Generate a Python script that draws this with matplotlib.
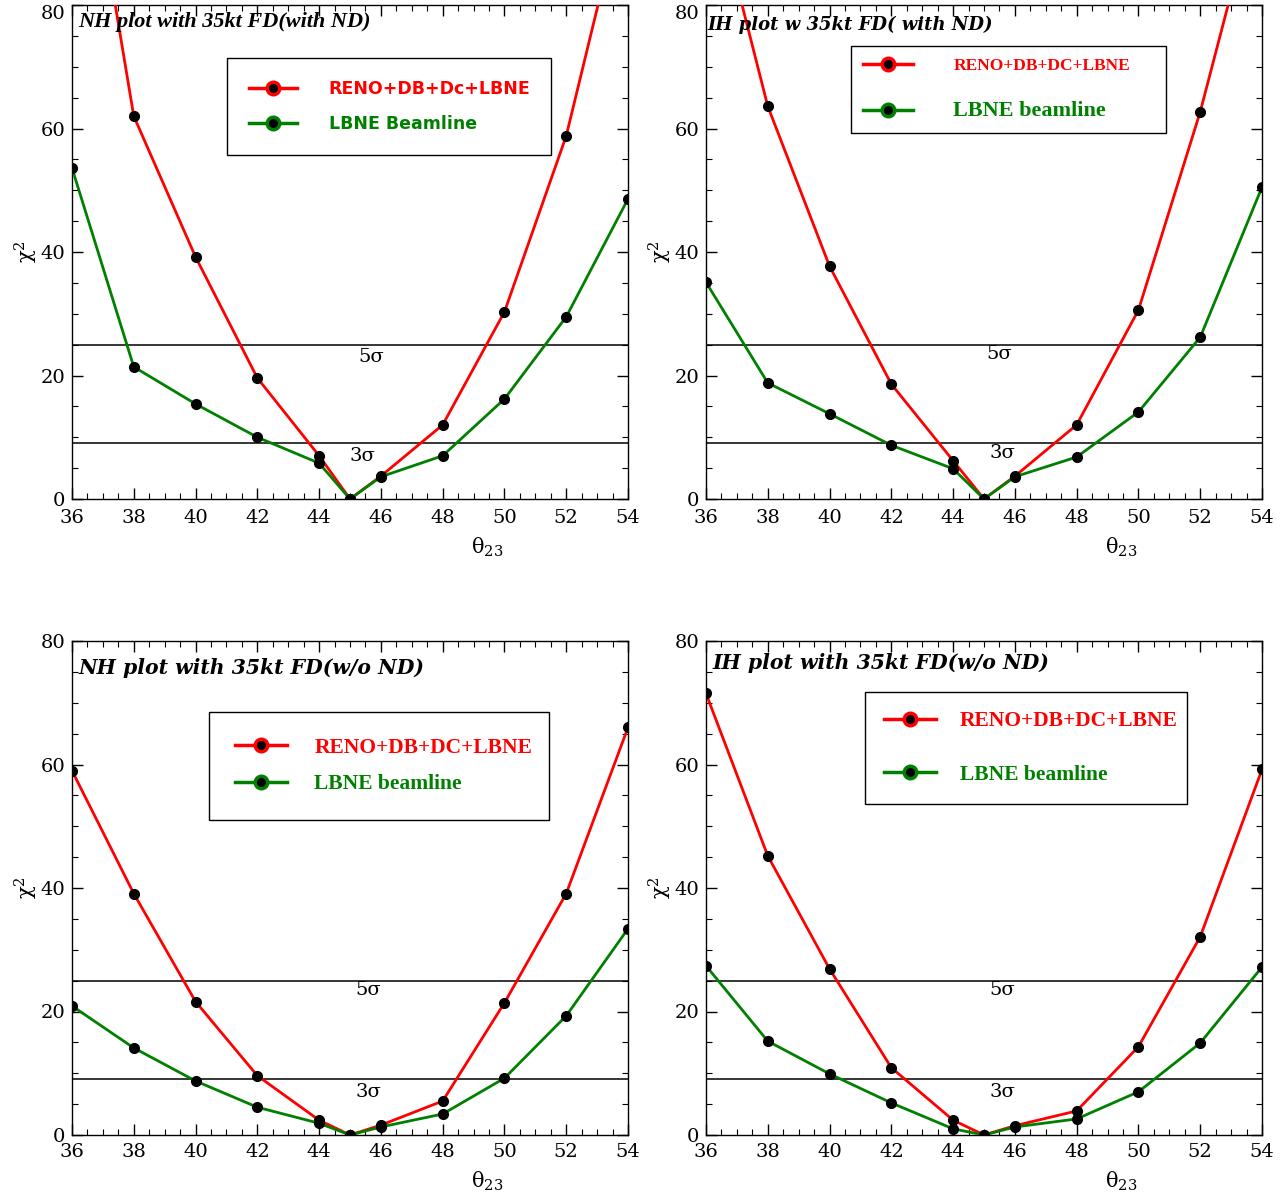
import matplotlib
matplotlib.use("Agg")
import matplotlib.pyplot as plt
from matplotlib.lines import Line2D
from matplotlib.ticker import MultipleLocator, FuncFormatter

theta = [36, 38, 40, 42, 44, 45, 46, 48, 50, 52, 54]

# Panel 1: NH with ND
nh_nd_red = [122, 62.0, 39.2, 19.6, 7.0, 0.0, 3.7, 12.0, 30.3, 58.8, 100]
nh_nd_green = [53.6, 21.4, 15.4, 10.0, 5.8, 0.0, 3.6, 7.0, 16.2, 29.5, 48.6]
# Panel 2: IH with ND
ih_nd_red = [103, 63.6, 37.7, 18.6, 6.2, 0.0, 3.7, 12.0, 30.6, 62.7, 101]
ih_nd_green = [35.1, 18.8, 13.8, 8.7, 4.9, 0.0, 3.6, 6.8, 14.1, 26.2, 50.5]
# Panel 3: NH w/o ND
nh_wo_red = [59.0, 39.1, 21.6, 9.6, 2.4, 0.0, 1.6, 5.5, 21.4, 39.1, 66.0]
nh_wo_green = [20.9, 14.1, 8.75, 4.5, 1.9, 0.0, 1.3, 3.4, 9.2, 19.3, 33.4]
# Panel 4: IH w/o ND
ih_wo_red = [71.5, 45.2, 26.9, 10.9, 2.4, 0.0, 1.5, 3.9, 14.3, 32.1, 59.2]
ih_wo_green = [27.4, 15.2, 9.9, 5.2, 1.0, 0.0, 1.3, 2.6, 7.0, 14.9, 27.2]

sigma_levels = [9, 25]
sigma_labels = ["3σ", "5σ"]

titles = ["NH plot with 35kt FD(with ND)", "IH plot w 35kt FD( with ND)",
          "NH plot with 35kt FD(w/o ND)", "IH plot with 35kt FD(w/o ND)"]
red_labels = ["RENO+DB+Dc+LBNE", "RENO+DB+DC+LBNE", "RENO+DB+DC+LBNE", "RENO+DB+DC+LBNE"]
green_labels = ["LBNE Beamline", "LBNE beamline", "LBNE beamline", "LBNE beamline"]

RED = "#ff0000"
GREEN = "#008000"
SERIF = ["Liberation Serif", "DejaVu Serif"]
DJSERIF = ["DejaVu Serif"]

plt.rcParams['mathtext.fontset'] = 'dejavuserif'

fig = plt.figure(figsize=(12.81, 11.94), dpi=100)
W, H = 1281, 1194

def axes_px(l, r, t, b):
    return fig.add_axes([l / W, 1 - b / H, (r - l) / W, (b - t) / H])

panels = [
    dict(box=(72, 628, 5, 499), red=nh_nd_red, green=nh_nd_green,
         tfam=SERIF, tfs=16, tpos=(0.012, 0.985),
         leg=dict(anchor=(227, 58, 551), fam="sans", rfs=12.5, gfs=12.5,
                  hl=2.8, htp=1.8, bp=1.25, ls=1.0),
         s5=(45.7, 23.0), s3=(45.4, 7.0), top=True, xly=-0.075, pad=7.5),
    dict(box=(706, 1262, 5, 499), red=ih_nd_red, green=ih_nd_green,
         tfam=DJSERIF, tfs=13, tpos=(0.003, 0.978),
         leg=dict(anchor=(851, 46, 1166), fam="serif", rfs=12.5, gfs=16,
                  hl=2.9, htp=2.3, bp=0.7, ls=1.55),
         s5=(45.5, 23.5), s3=(45.6, 7.5), top=True, xly=-0.075, pad=7.5),
    dict(box=(72, 628, 641, 1135), red=nh_wo_red, green=nh_wo_green,
         tfam=DJSERIF, tfs=14.7, tpos=(0.012, 0.965),
         leg=dict(anchor=(209, 712, 549), fam="serif", rfs=15.5, gfs=15.5,
                  hl=2.4, htp=1.3, bp=1.2, ls=0.75),
         s5=(45.6, 23.5), s3=(45.6, 7.0), top=False, xly=-0.071, pad=5.5),
    dict(box=(706, 1262, 641, 1135), red=ih_wo_red, green=ih_wo_green,
         tfam=DJSERIF, tfs=14.7, tpos=(0.012, 0.975),
         leg=dict(anchor=(865, 692, 1187), fam="serif", rfs=15.5, gfs=15.5,
                  hl=2.4, htp=1.1, bp=0.9, ls=1.55),
         s5=(45.6, 23.5), s3=(45.6, 7.0), top=False, xly=-0.071, pad=5.5),
]

for i, p in enumerate(panels):
    l, r, t, b = p["box"]
    ax = axes_px(l, r, t, b)
    ax.plot(theta, p["red"], color=RED, lw=2.0, marker="o", ms=7, mfc="black", mec="black", zorder=3)
    ax.plot(theta, p["green"], color=GREEN, lw=2.0, marker="o", ms=7, mfc="black", mec="black", zorder=3)
    for lvl in sigma_levels:
        ax.axhline(lvl, color="black", lw=1.1, zorder=2)
    ax.text(p["s5"][0], p["s5"][1], sigma_labels[1], fontsize=14, family=DJSERIF, ha="center", va="center")
    ax.text(p["s3"][0], p["s3"][1], sigma_labels[0], fontsize=14, family=DJSERIF, ha="center", va="center")

    ax.set_xlim(36, 54)
    ax.set_ylim(0, 80)
    ax.xaxis.set_major_locator(MultipleLocator(2))
    ax.xaxis.set_minor_locator(MultipleLocator(0.5))
    ax.yaxis.set_major_locator(MultipleLocator(20))
    ax.yaxis.set_minor_locator(MultipleLocator(5))
    ax.tick_params(which="both", direction="in", top=True, right=True)
    ax.tick_params(which="major", length=8, width=1, labelsize=14, pad=5)
    ax.tick_params(axis="x", which="major", pad=p["pad"])
    ax.tick_params(which="minor", length=4, width=0.8)
    if p["top"]:
        ax.yaxis.set_major_formatter(FuncFormatter(lambda v, pos: "" if v >= 80 else f"{v:g}"))
        ax.text(-0.012, 1.0, "80", transform=ax.transAxes, fontsize=14, family=DJSERIF,
                ha="right", va="top")
    for lab in ax.get_xticklabels() + ax.get_yticklabels():
        lab.set_family(DJSERIF)
    for sp in ax.spines.values():
        sp.set_linewidth(1.0)

    ax.set_xlabel("θ$_{23}$", fontsize=15, family=DJSERIF)
    ax.xaxis.set_label_coords(0.746, p["xly"])
    ax.set_ylabel("χ$^{2}$", fontsize=15, family=DJSERIF)
    ax.yaxis.set_label_coords(-0.058, 0.5)

    ax.text(p["tpos"][0], p["tpos"][1], titles[i], transform=ax.transAxes,
            fontsize=p["tfs"], family=p["tfam"], fontweight="bold", fontstyle="italic",
            ha="left", va="top", zorder=5)

    L = p["leg"]
    lx0, ly0, lx1 = L["anchor"]
    anchor = ((lx0 - l) / (r - l), (b - ly0) / (b - t), (lx1 - lx0) / (r - l), 0)
    handles = [Line2D([], [], color=RED, lw=2.5, marker="o", ms=9, mfc="black", mec=RED, mew=2.5),
               Line2D([], [], color=GREEN, lw=2.5, marker="o", ms=9, mfc="black", mec=GREEN, mew=2.5)]
    fam = ["DejaVu Sans"] if L["fam"] == "sans" else SERIF
    leg = ax.legend(handles, [red_labels[i], green_labels[i]], loc="upper left",
                    bbox_to_anchor=anchor, mode="expand", borderaxespad=0, frameon=True,
                    fancybox=False, edgecolor="black", framealpha=1, handlelength=L["hl"],
                    handletextpad=L["htp"], borderpad=L["bp"], labelspacing=L["ls"],
                    prop=dict(family=fam, weight="bold", size=L["rfs"]))
    leg.get_frame().set_linewidth(1.0)
    txts = leg.get_texts()
    txts[0].set_color(RED)
    txts[1].set_color(GREEN)
    txts[1].set_fontsize(L["gfs"])

fig.savefig("out.png", dpi=100)
